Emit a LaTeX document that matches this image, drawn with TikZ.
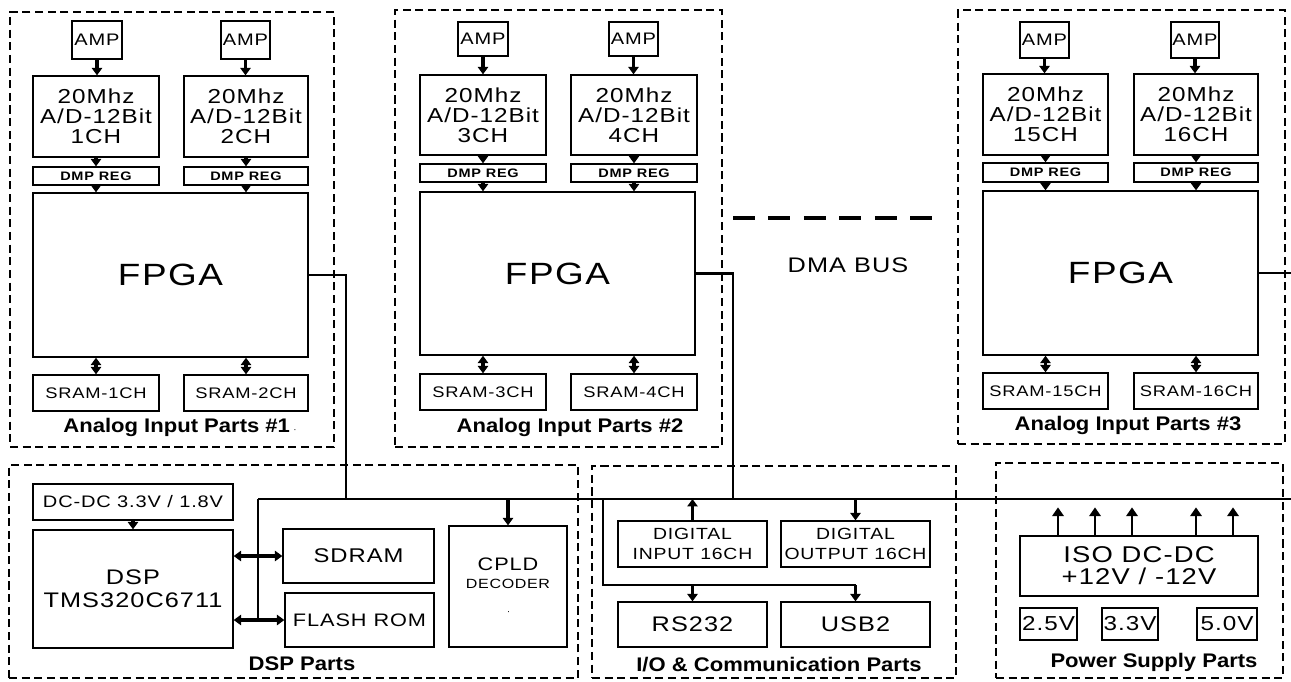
\documentclass[tikz,border=0pt]{standalone}
\usepackage{fontspec}
\setmainfont{Liberation Sans}[FakeStretch=1.2,LetterSpace=5]
\newfontfamily\lblfont{Liberation Sans}[FakeStretch=1.12]
\newfontfamily\dmpfont{Liberation Sans}[FakeStretch=1.18,LetterSpace=6]
\usetikzlibrary{arrows.meta,fit}
% box from pixel corners: [style]{name}{x1}{y1}{x2}{y2}{text}
\newcommand\bx[7][]{%
  \pgfmathsetmacro\bxw{(#5-#3)*0.02}%
  \pgfmathsetmacro\bxh{(#6-#4)*0.02}%
  \node[box,#1,minimum width=\bxw cm,minimum height=\bxh cm] (#2) at ({(#3+#5)/2},{(#4+#6)/2}) {#7};}
\begin{document}
\begin{tikzpicture}[x=0.02cm,y=-0.02cm,
  >={Triangle[length=4.2pt,width=5.8pt]},
  box/.style={draw, line width=0.75pt, inner sep=0pt, align=center, anchor=center},
  grp/.style={draw, line width=0.9pt, dash pattern=on 4.6pt off 2.6pt, inner sep=0pt},
  arr/.style={line width=1.9pt, ->},
  darr/.style={line width=1.9pt, <->},
  parr/.style={line width=1.5pt, -{Triangle[length=5pt,width=6.5pt]}},
  bus/.style={line width=1.3pt},
  dma/.style={line width=2.8pt, dash pattern=on 12.47pt off 7.7pt},
  ampf/.style={font=\fontsize{9.5}{11}\selectfont},
  adcf/.style={font=\fontsize{11.5}{11.4}\selectfont},
  dmpf/.style={font=\dmpfont\bfseries\fontsize{7}{8}\selectfont},
  fpgaf/.style={font=\fontsize{17.5}{19}\selectfont},
  sramf/.style={font=\fontsize{8.7}{10}\selectfont},
  lbl/.style={font=\lblfont\bfseries\fontsize{11.2}{13}\selectfont, inner sep=0pt},
  midf/.style={font=\fontsize{9.5}{12}\selectfont},
  bigf/.style={font=\fontsize{12}{13}\selectfont},
  memf/.style={font=\fontsize{11.3}{12}\selectfont},
  flashf/.style={font=\fontsize{10.3}{12}\selectfont},
  cpldf/.style={font=\fontsize{10.3}{12}\selectfont},
  iof/.style={font=\fontsize{9.2}{11}\selectfont},
  rsf/.style={font=\fontsize{12}{13}\selectfont},
  isof/.style={font=\fontsize{13}{12.6}\selectfont},
  vf/.style={font=\fontsize{11.5}{12}\selectfont}
]
\useasboundingbox (0,0) rectangle (1291,681);

% ---------- group frames ----------
\node[grp, fit={(10,12)(334,447)}] (g1) {};
\node[grp, fit={(395,10)(722,447)}] (g2) {};
\node[grp, fit={(958,10)(1285,444)}] (g3) {};
\node[grp, fit={(9,465)(578,678)}] (g4) {};
\node[grp, fit={(592,466)(956,678)}] (g5) {};
\node[grp, fit={(996,463)(1283,678)}] (g6) {};

% ---------- Analog Input Parts #1 ----------
\bx[ampf]{amp1}{72}{21}{122}{59}{AMP}
\bx[ampf]{amp2}{221}{21}{270}{59}{AMP}
\bx[adcf]{adc1}{33}{76}{159}{157}{20Mhz\\A/D-12Bit\\1CH}
\bx[adcf]{adc2}{184}{76}{308}{157}{20Mhz\\A/D-12Bit\\2CH}
\bx[dmpf]{dmp1}{33}{167}{159}{185}{DMP REG}
\bx[dmpf]{dmp2}{184}{167}{308}{185}{DMP REG}
\bx[fpgaf]{fpga1}{33}{193}{308}{357}{FPGA}
\bx[sramf]{sram1}{33}{375}{159}{411}{SRAM-1CH}
\bx[sramf]{sram2}{184}{375}{308}{411}{SRAM-2CH}
\node[lbl] (l1) at (180,427) {Analog Input Parts \#1\,{\mdseries\tiny·}};

% ---------- Analog Input Parts #2 ----------
\bx[ampf]{amp3}{458}{22}{508}{56}{AMP}
\bx[ampf]{amp4}{609}{22}{658}{56}{AMP}
\bx[adcf]{adc3}{420}{75}{546}{155}{20Mhz\\A/D-12Bit\\3CH}
\bx[adcf]{adc4}{571}{75}{697}{155}{20Mhz\\A/D-12Bit\\4CH}
\bx[dmpf]{dmp3}{420}{164}{546}{182}{DMP REG}
\bx[dmpf]{dmp4}{571}{164}{697}{182}{DMP REG}
\bx[fpgaf]{fpga2}{420}{192}{695}{355}{FPGA}
\bx[sramf]{sram3}{420}{374}{546}{410}{SRAM-3CH}
\bx[sramf]{sram4}{571}{374}{697}{410}{SRAM-4CH}
\node[lbl] (l2) at (570,427) {Analog Input Parts \#2};

% ---------- Analog Input Parts #3 ----------
\bx[ampf]{amp15}{1020}{22}{1069}{58}{AMP}
\bx[ampf]{amp16}{1171}{22}{1219}{58}{AMP}
\bx[adcf]{adc15}{983}{74}{1108}{155}{20Mhz\\A/D-12Bit\\15CH}
\bx[adcf]{adc16}{1134}{74}{1258}{155}{20Mhz\\A/D-12Bit\\16CH}
\bx[dmpf]{dmp15}{983}{163}{1108}{182}{DMP REG}
\bx[dmpf]{dmp16}{1134}{163}{1258}{182}{DMP REG}
\bx[fpgaf]{fpga3}{983}{191}{1258}{355}{FPGA}
\bx[sramf]{sram15}{983}{373}{1108}{409}{SRAM-15CH}
\bx[sramf]{sram16}{1134}{373}{1258}{409}{SRAM-16CH}
\node[lbl] (l3) at (1128,425) {Analog Input Parts \#3};

% chains inside analog groups
\foreach \a/\c/\d/\f/\s in {amp1/adc1/dmp1/fpga1/sram1, amp2/adc2/dmp2/fpga1/sram2,
  amp3/adc3/dmp3/fpga2/sram3, amp4/adc4/dmp4/fpga2/sram4,
  amp15/adc15/dmp15/fpga3/sram15, amp16/adc16/dmp16/fpga3/sram16}{
  \draw[arr] (\a.south) -- (\a.south |- \c.north);
  \draw[arr] (\c.south) -- (\d.north);
  \draw[arr] (\d.south) -- (\d.south |- \f.north);
  \draw[darr] (\s.north |- \f.south) -- (\s.north);
}

% ---------- DMA bus ----------
\coordinate (dmaA) at (733,218);
\coordinate (dmaB) at (933,218);
\draw[dma] (dmaA) -- (dmaB);
\node[font=\fontsize{12}{13}\selectfont] (dmalbl) at (848,265) {DMA BUS};

% ---------- DSP Parts ----------
\bx[midf]{dcdc}{33}{484}{233}{520}{DC-DC 3.3V / 1.8V}
\bx[bigf]{dsp}{33}{530}{233}{648}{DSP\\TMS320C6711}
\bx[memf]{sdram}{283}{529}{434}{583}{SDRAM}
\bx[flashf]{flash}{285}{593}{434}{647}{FLASH ROM}
\bx[cpldf]{cpld}{449}{526}{567}{647}{CPLD\\[-2pt]{\fontsize{7.6}{9}\selectfont DECODER}\\[3pt]{\tiny\,·}}
\node[lbl] (l4) at (302,664) {DSP Parts};

% ---------- I/O & Communication Parts ----------
\bx[iof]{din}{618}{521}{767}{567}{DIGITAL\\INPUT 16CH}
\bx[iof]{dout}{781}{521}{930}{567}{DIGITAL\\OUTPUT 16CH}
\bx[rsf]{rs}{618}{602}{767}{647}{RS232}
\bx[rsf]{usb}{781}{602}{930}{647}{USB2}
\node[lbl] (l5) at (779,665) {I/O \& Communication Parts};

% ---------- Power Supply Parts ----------
\bx[isof]{iso}{1020}{536}{1258}{596}{ISO DC-DC\\+12V / -12V}
\bx[vf]{v25}{1020}{608}{1077}{640}{2.5V}
\bx[vf]{v33}{1102}{608}{1158}{640}{3.3V}
\bx[vf]{v50}{1197}{608}{1257}{640}{5.0V}
\node[lbl] (l6) at (1154,662) {Power Supply Parts};
\foreach \x in {1058,1095,1132,1196,1233}
  \draw[parr] (iso.north -| \x,0) -- ++(0,-28);

% ---------- system bus ----------
\coordinate (bl) at (258,499);
\coordinate (br) at (1291,499);
\coordinate (f1) at (346,499);
\coordinate (f2) at (733,499);
\coordinate (f3) at (1291,273);
\coordinate (io) at (603,499);
\coordinate (io2) at (603,585);
\draw[bus] (bl) -- (br);
\draw[bus] (fpga1.east) -| (f1);
\draw[bus] (fpga2.east) -| (f2);
\draw[bus] (fpga3.east) -- (fpga3.east -| f3);
\draw[bus] (bl) -- (bl |- flash.west);
\draw[darr] (sdram.west -| dsp.east) -- (sdram.west);
\draw[darr] (flash.west -| dsp.east) -- (flash.west);
\draw[arr] (dcdc.south) -- (dsp.north);
\draw[arr] (cpld.north |- bl) -- (cpld.north);
\draw[arr] (din.north) -- (din.north |- bl);
\draw[arr] (dout.north |- bl) -- (dout.north);
\draw[bus] (io) -- (io2) -- (io2 -| usb.north);
\draw[arr] (io2 -| rs.north) -- (rs.north);
\draw[arr] (io2 -| usb.north) -- (usb.north);
\end{tikzpicture}
\end{document}
